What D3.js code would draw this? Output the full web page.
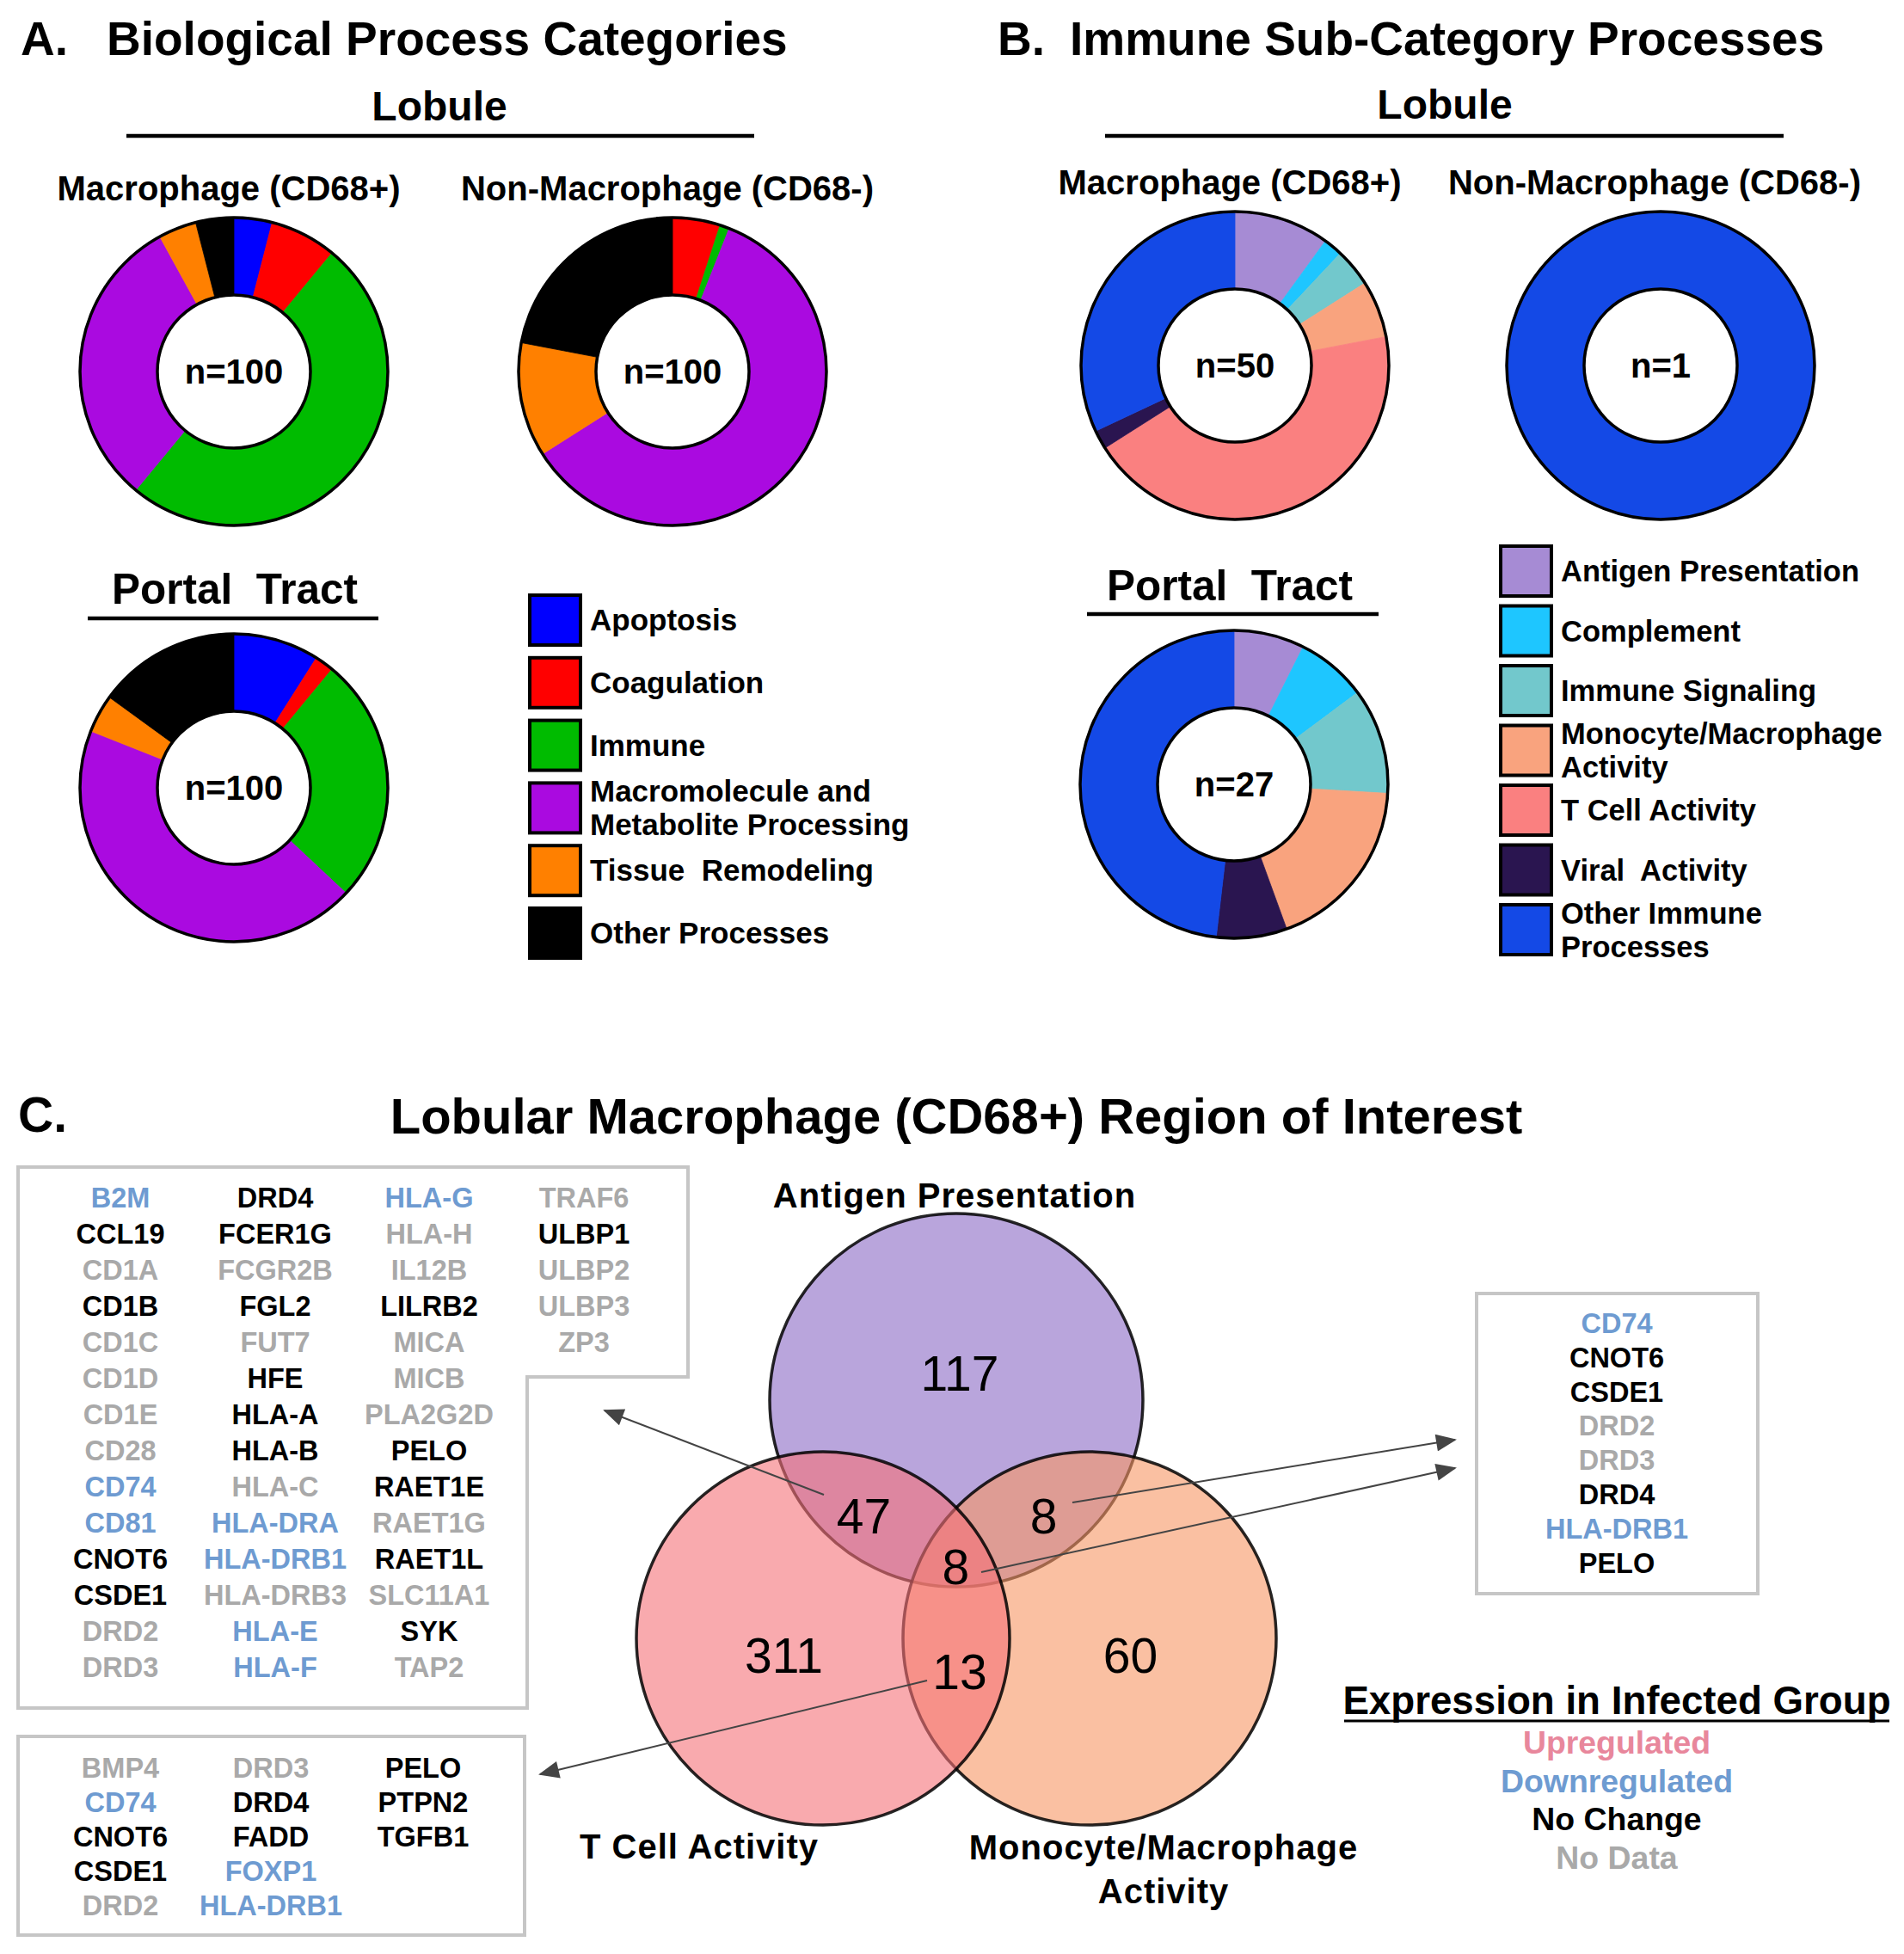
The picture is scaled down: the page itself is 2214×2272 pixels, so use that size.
<!DOCTYPE html>
<html>
<head>
<meta charset="utf-8">
<script src="https://cdn.jsdelivr.net/npm/d3@7"></script>
<style>
body { margin: 0; background: #fff; }
text { font-family: "Liberation Sans", Arial, sans-serif; font-weight: bold; }
.pre { white-space: pre; }
</style>
</head>
<body>
<div id="chart"></div>
<script>
// A. biological process categories (share of top 100 processes)
const bioCategories = ["Apoptosis", "Coagulation", "Immune", "Macromolecule and|Metabolite Processing", "Tissue  Remodeling", "Other Processes"];
const bioColors = ["#0000ff", "#ff0000", "#00bb00", "#aa0ae0", "#ff8000", "#000000"];
const bioLobuleMac = [4, 7, 50, 31, 4, 4];
const bioLobuleNonMac = [0, 5, 1, 60, 12, 22];
const bioPortal = [9, 2, 26, 44, 4, 15];

// B. immune sub-categories
const immCategories = ["Antigen Presentation", "Complement", "Immune Signaling", "Monocyte/Macrophage|Activity", "T Cell Activity", "Viral  Activity", "Other Immune|Processes"];
const immColors = ["#a68bd4", "#1ec6ff", "#72c8cc", "#f9a37e", "#fa8080", "#2a1550", "#1449e6"];
const immLobuleMac = [5, 1, 2, 3, 22, 1, 16];
const immLobuleNonMac = [0, 0, 0, 0, 0, 0, 1];
const immPortal = [2, 2, 3, 5, 0, 2, 13];

// C. venn counts
const vennSets = ["Antigen Presentation", "T Cell Activity", "Monocyte/Macrophage|Activity"];
const vennRegions = ["A", "T", "M", "AT", "AM", "TM", "ATM"];
const vennCounts = [117, 311, 60, 47, 8, 13, 8];

// gene lists: d = downregulated, n = no change, x = no data
const genesAT = [
  ["B2M:d", "CCL19:n", "CD1A:x", "CD1B:n", "CD1C:x", "CD1D:x", "CD1E:x", "CD28:x", "CD74:d", "CD81:d", "CNOT6:n", "CSDE1:n", "DRD2:x", "DRD3:x"],
  ["DRD4:n", "FCER1G:n", "FCGR2B:x", "FGL2:n", "FUT7:x", "HFE:n", "HLA-A:n", "HLA-B:n", "HLA-C:x", "HLA-DRA:d", "HLA-DRB1:d", "HLA-DRB3:x", "HLA-E:d", "HLA-F:d"],
  ["HLA-G:d", "HLA-H:x", "IL12B:x", "LILRB2:n", "MICA:x", "MICB:x", "PLA2G2D:x", "PELO:n", "RAET1E:n", "RAET1G:x", "RAET1L:n", "SLC11A1:x", "SYK:n", "TAP2:x"],
  ["TRAF6:x", "ULBP1:n", "ULBP2:x", "ULBP3:x", "ZP3:x"]
];
const genesTM = [
  ["BMP4:x", "CD74:d", "CNOT6:n", "CSDE1:n", "DRD2:x"],
  ["DRD3:x", "DRD4:n", "FADD:n", "FOXP1:d", "HLA-DRB1:d"],
  ["PELO:n", "PTPN2:n", "TGFB1:n"]
];
const genesAM = [["CD74:d", "CNOT6:n", "CSDE1:n", "DRD2:x", "DRD3:x", "DRD4:n", "HLA-DRB1:d", "PELO:n"]];

const statusLabels = ["Upregulated", "Downregulated", "No Change", "No Data"];
const statusColors = {u: "#e8879c", d: "#6e9bd1", n: "#000000", x: "#a9a9a9"};
const statusKeys = ["u", "d", "n", "x"];

const W = 2214, H = 2272;
const svg = d3.select("#chart").append("svg")
  .attr("width", W).attr("height", H)
  .attr("viewBox", [0, 0, W, H]);

const rOut = 179, rIn = 89;

function donut(cx, cy, values, colors, label) {
  const g = svg.append("g").attr("transform", `translate(${cx},${cy})`);
  const pie = d3.pie().sort(null).value(d => d.v);
  const arc = d3.arc().innerRadius(rIn).outerRadius(rOut);
  const data = values.map((v, i) => ({v, c: colors[i]})).filter(d => d.v > 0);
  g.selectAll("path")
    .data(pie(data))
    .join("path")
    .attr("d", arc)
    .attr("fill", d => d.data.c)
    .attr("stroke", d => d.data.c)
    .attr("stroke-width", 0.8);
  g.append("circle").attr("r", rOut).attr("fill", "none").attr("stroke", "#000").attr("stroke-width", 3.5);
  g.append("circle").attr("r", rIn).attr("fill", "#fff").attr("stroke", "#000").attr("stroke-width", 3.5);
  g.append("text").attr("text-anchor", "middle").attr("y", 14).attr("font-size", 40).text(label);
}

function heading(x, y, txt, size, anchor) {
  return svg.append("text").attr("class", "pre").attr("x", x).attr("y", y)
    .attr("font-size", size).attr("text-anchor", anchor || "middle").text(txt);
}

function rule(x1, x2, y) {
  svg.append("line").attr("x1", x1).attr("x2", x2).attr("y1", y).attr("y2", y)
    .attr("stroke", "#000").attr("stroke-width", 4.5);
}

function legend(x, y0, step, names, colors, fs) {
  const g = svg.append("g");
  const row = g.selectAll("g").data(names).join("g")
    .attr("transform", (d, i) => `translate(${x},${y0 + i * step})`);
  row.append("rect").attr("x", 0).attr("y", -29).attr("width", 59).attr("height", 58)
    .attr("fill", (d, i) => colors[i]).attr("stroke", "#000").attr("stroke-width", 4);
  row.each(function(d) {
    const lines = d.split("|");
    const t = d3.select(this).append("text").attr("class", "pre").attr("font-size", fs).attr("x", 70);
    lines.forEach((l, j) => {
      t.append("tspan").attr("x", 70)
        .attr("y", 12 + (j - (lines.length - 1) / 2) * 39).text(l);
    });
  });
}

// ---------- Panel A ----------
heading(24, 64, "A.", 55, "start");
heading(124, 64, "Biological Process Categories", 55, "start");
heading(511, 140, "Lobule", 48);
rule(147, 877, 158);
heading(266, 233, "Macrophage (CD68+)", 40);
heading(776, 233, "Non-Macrophage (CD68-)", 40);
donut(272, 432, bioLobuleMac, bioColors, "n=" + d3.sum(bioLobuleMac));
donut(782, 432, bioLobuleNonMac, bioColors, "n=" + d3.sum(bioLobuleNonMac));
heading(273, 702, "Portal  Tract", 49.5);
rule(102, 440, 719);
donut(272, 916, bioPortal, bioColors, "n=" + d3.sum(bioPortal));
legend(616, 721, 72.8, bioCategories, bioColors, 35);

// ---------- Panel B ----------
heading(1160, 64, "B.", 55, "start");
heading(1244, 64, "Immune Sub-Category Processes", 55, "start");
heading(1680, 138, "Lobule", 48);
rule(1285, 2074, 158);
heading(1430, 226, "Macrophage (CD68+)", 40);
heading(1924, 226, "Non-Macrophage (CD68-)", 40);
donut(1436, 425, immLobuleMac, immColors, "n=" + d3.sum(immLobuleMac));
donut(1931, 425, immLobuleNonMac, immColors, "n=" + d3.sum(immLobuleNonMac));
heading(1430, 698, "Portal  Tract", 49.5);
rule(1264, 1603, 714);
donut(1435, 912, immPortal, immColors, "n=" + d3.sum(immPortal));
legend(1745, 664, 69.5, immCategories, immColors, 34.5);

// ---------- Panel C ----------
heading(21, 1316, "C.", 57, "start");
heading(1112, 1318, "Lobular Macrophage (CD68+) Region of Interest", 58);

// gene boxes
const boxStroke = "#c6c6c6";
svg.append("path")
  .attr("d", "M21,1357H800V1601H613V1986H21Z")
  .attr("fill", "none").attr("stroke", boxStroke).attr("stroke-width", 4);
svg.append("rect").attr("x", 21).attr("y", 2019).attr("width", 589).attr("height", 231)
  .attr("fill", "none").attr("stroke", boxStroke).attr("stroke-width", 4);
svg.append("rect").attr("x", 1717).attr("y", 1504).attr("width", 327).attr("height", 349)
  .attr("fill", "none").attr("stroke", boxStroke).attr("stroke-width", 4);

function geneList(cols, xs, y0, step) {
  const g = svg.append("g").attr("text-anchor", "middle").attr("font-size", 32.5);
  cols.forEach((col, ci) => {
    g.selectAll(null).data(col).join("text")
      .attr("x", xs[ci])
      .attr("y", (d, i) => y0 + i * step + 11)
      .attr("fill", d => statusColors[d.split(":")[1]])
      .text(d => d.split(":")[0]);
  });
}
geneList(genesAT, [140, 320, 499, 679], 1393, 42);
geneList(genesTM, [140, 315, 492], 2056, 40);
geneList(genesAM, [1880], 1539, 39.8);

// venn diagram
const venn = svg.append("g");
const vx = d3.scaleLinear().domain([-1, 1]).range([957, 1267]);
const vy = d3.scaleLinear().domain([0, 1]).range([1628, 1905]);
const vennCircles = [
  {name: "A", cx: vx(0), cy: vy(0), fill: "#8a69c5"},
  {name: "M", cx: vx(1), cy: vy(1), fill: "#f79664"},
  {name: "T", cx: vx(-1), cy: vy(1), fill: "#f57178"}
];
venn.selectAll("circle").data(vennCircles).join("circle")
  .attr("cx", d => d.cx).attr("cy", d => d.cy).attr("r", 217)
  .attr("fill", d => d.fill).attr("fill-opacity", 0.6)
  .attr("stroke", "#000").attr("stroke-width", 3.5).attr("stroke-opacity", 0.85);

// region label anchor points in venn layout units
const regionPos = {
  A: [0.026, -0.112], T: [-1.294, 1.072], M: [1.306, 1.072],
  AT: [-0.694, 0.488], AM: [0.656, 0.488], ATM: [-0.004, 0.701], TM: [0.026, 1.142]
};
venn.selectAll("text.count").data(vennRegions).join("text")
  .attr("class", "count")
  .attr("x", d => vx(regionPos[d][0]))
  .attr("y", d => vy(regionPos[d][1]) + 20)
  .attr("text-anchor", "middle")
  .attr("font-size", 57)
  .style("font-weight", "normal")
  .text((d, i) => vennCounts[i]);

// set labels
heading(1110, 1404, vennSets[0], 40).attr("letter-spacing", 1);
heading(813, 2161, vennSets[1], 40).attr("letter-spacing", 1);
const ml = vennSets[2].split("|");
heading(1353, 2162, ml[0], 40).attr("letter-spacing", 1);
heading(1353, 2213, ml[1], 40).attr("letter-spacing", 1);

// arrows
svg.append("defs").append("marker")
  .attr("id", "arrow")
  .attr("viewBox", "0 -5 12 10")
  .attr("refX", 11).attr("refY", 0)
  .attr("markerWidth", 26).attr("markerHeight", 20)
  .attr("markerUnits", "userSpaceOnUse")
  .attr("orient", "auto")
  .append("path")
  .attr("fill", "#444")
  .attr("d", "M0,-5L12,0L0,5Z");
const arrows = [
  [[958, 1738], [703, 1640]],
  [[1247, 1747], [1692, 1674]],
  [[1141, 1828], [1692, 1707]],
  [[1078, 1954], [628, 2063]]
];
svg.append("g").selectAll("line").data(arrows).join("line")
  .attr("x1", d => d[0][0]).attr("y1", d => d[0][1])
  .attr("x2", d => d[1][0]).attr("y2", d => d[1][1])
  .attr("stroke", "#444").attr("stroke-width", 2)
  .attr("marker-end", "url(#arrow)");

// expression legend
heading(1880, 1993, "Expression in Infected Group", 45.7);
svg.append("line").attr("x1", 1563).attr("x2", 2197).attr("y1", 2001).attr("y2", 2001)
  .attr("stroke", "#000").attr("stroke-width", 3);
svg.append("g").selectAll("text").data(statusLabels).join("text")
  .attr("x", 1880).attr("y", (d, i) => 2039 + i * 44.7)
  .attr("text-anchor", "middle").attr("font-size", 37.4)
  .attr("fill", (d, i) => statusColors[statusKeys[i]])
  .text(d => d);
</script>
</body>
</html>
